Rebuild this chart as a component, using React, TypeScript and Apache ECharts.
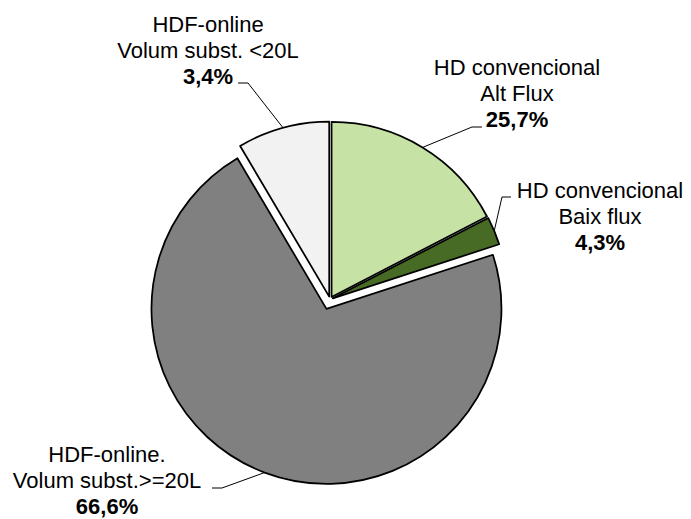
import React, { useEffect, useRef } from "react";
import * as echarts from "echarts";

const categories = [
  "HD convencional\nAlt Flux",
  "HD convencional\nBaix flux",
  "HDF-online.\nVolum subst.>=20L",
  "HDF-online\nVolum subst. <20L",
];
// slice shares as drawn in the picture (angles), in %
const sliceValues = [17.4, 2.6, 71.5, 8.5];
// percentages printed on the labels
const labelPercents = ["25,7%", "4,3%", "66,6%", "3,4%"];
const sliceColors = ["#C6E3A5", "#476B24", "#808080", "#F2F2F2"];
const GRAY_INDEX = 2;

const FONT = "'Liberation Sans', Arial, Helvetica, sans-serif";
const CENTER = [330, 299.5];
const RADIUS = 175;
const GRAY_OFFSET = 10;
const OTHER_OFFSET = 3;

export default function App() {
  const ref = useRef<HTMLDivElement>(null);

  useEffect(() => {
    if (!ref.current) return;
    const chart = echarts.init(ref.current, null, { renderer: "svg" });

    const labelPos: { x: number; y: number; elbow: number[]; end: number[] }[] = [
      { x: 517, y: 55, elbow: [472, 127], end: [482, 127] },
      { x: 600, y: 178, elbow: [502, 197], end: [511, 197] },
      { x: 107, y: 442, elbow: [222, 488], end: [212, 488] },
      { x: 208, y: 12, elbow: [248, 83], end: [238, 83] },
    ];

    const sliceSeries = (which: (i: number) => boolean, offset: number) => ({
      type: "pie",
      center: CENTER,
      radius: [0, RADIUS],
      startAngle: 90,
      clockwise: true,
      selectedMode: "multiple",
      selectedOffset: offset,
      silent: true,
      emphasis: { disabled: true },
      label: { show: false },
      labelLine: { show: false },
      data: sliceValues.map((v, i) => {
        const on = which(i);
        const style = on
          ? { color: sliceColors[i], borderColor: "#000", borderWidth: 1.75 }
          : { color: "rgba(0,0,0,0)", borderWidth: 0, borderColor: "rgba(0,0,0,0)" };
        return {
          value: v,
          name: categories[i],
          selected: on,
          itemStyle: style,
          select: { itemStyle: style },
        };
      }),
    });

    const labelSeries = {
      type: "pie",
      center: CENTER,
      radius: [0, RADIUS],
      startAngle: 90,
      clockwise: true,
      silent: true,
      avoidLabelOverlap: false,
      emphasis: { disabled: true },
      itemStyle: { color: "rgba(0,0,0,0)", borderWidth: 0 },
      data: sliceValues.map((v, i) => ({ value: v, name: categories[i] })),
      label: {
        show: true,
        position: "outside",
        color: "#000",
        fontFamily: FONT,
        fontSize: 22,
        lineHeight: 25.8,
        align: "center",
        formatter: (p: any) =>
          `{n|${categories[p.dataIndex]}}\n{p|${labelPercents[p.dataIndex]}}`,
        rich: {
          n: { fontFamily: FONT, fontSize: 22, lineHeight: 25.8, color: "#000", align: "center" },
          p: {
            fontFamily: FONT,
            fontSize: 22,
            lineHeight: 25.8,
            fontWeight: "bold",
            color: "#000",
            align: "center",
          },
        },
      },
      labelLine: { show: true, lineStyle: { color: "#000", width: 1 } },
      labelLayout: (params: any) => {
        const i = params.dataIndex;
        const L = labelPos[i];
        if (!L) return {};
        let p0 = L.elbow;
        if (params.labelLinePoints && params.labelLinePoints[0]) {
          const q = params.labelLinePoints[0];
          const dx = q[0] - CENTER[0];
          const dy = q[1] - CENTER[1];
          const len = Math.sqrt(dx * dx + dy * dy) || 1;
          const off = i === GRAY_INDEX ? GRAY_OFFSET : OTHER_OFFSET;
          p0 = [q[0] + (dx / len) * off, q[1] + (dy / len) * off];
        }
        return {
          x: L.x,
          y: L.y,
          align: "center",
          verticalAlign: "top",
          labelLinePoints: [p0, L.elbow, L.end],
        };
      },
    };

    chart.setOption({
      animation: false,
      backgroundColor: "#fff",
      series: [
        sliceSeries((i) => i === GRAY_INDEX, GRAY_OFFSET),
        sliceSeries((i) => i !== GRAY_INDEX, OTHER_OFFSET),
        labelSeries,
      ],
    });

    return () => chart.dispose();
  }, []);

  return (
    <div
      ref={ref}
      style={{ position: "fixed", left: 0, top: 0, width: 691, height: 519, background: "#fff" }}
    />
  );
}
